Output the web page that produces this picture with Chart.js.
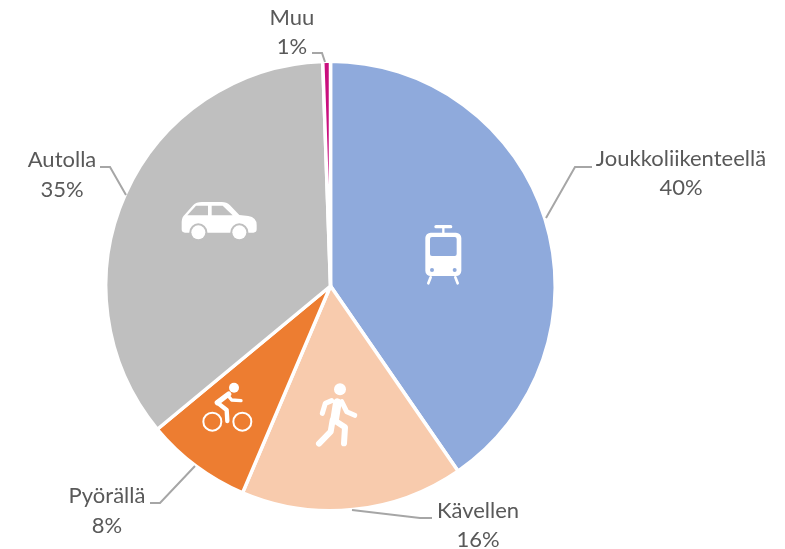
<!DOCTYPE html>
<html><head><meta charset="utf-8">
<style>html,body{margin:0;padding:0;background:#fff}canvas{display:block}</style>
<script src="https://cdn.jsdelivr.net/npm/chart.js@4"></script></head>
<body><canvas id="c" width="785" height="549"></canvas>
<script>
const categories = ["Joukkoliikenteellä","Kävellen","Pyörällä","Autolla","Muu"];
const shares = [40.4,16,7.6,35.45,0.55];
const shareLabels = ["40%","16%","8%","35%","1%"];
const colors = ["#8FAADC","#F8CBAD","#ED7D31","#BFBFBF","#C90F7E"];
const labelPos = [[681,159,188],[478,511,540],[107,496,526],[62,160,190],[292,18,47]];
const leaders = [
 [[592,167],[575,167],[546,218]],
 [[432,518],[420,518],[352,510]],
 [[150,503],[160,503],[195,466]],
 [[100,167],[110,167],[126,195]],
 [[312,53],[322,53],[325,62]]
];
function line(ctx,pts){ctx.beginPath();pts.forEach((p,i)=>i?ctx.lineTo(p[0],p[1]):ctx.moveTo(p[0],p[1]));ctx.stroke();}
function dot(ctx,x,y,r,c){ctx.fillStyle=c;ctx.beginPath();ctx.arc(x,y,r,0,7);ctx.fill();}
function poly(ctx,pts,c){ctx.fillStyle=c;ctx.beginPath();pts.forEach((p,i)=>i?ctx.lineTo(p[0],p[1]):ctx.moveTo(p[0],p[1]));ctx.closePath();ctx.fill();}
function icons(ctx){
 ctx.save();ctx.translate(180,190);ctx.scale(1/3,1/3);
 ctx.lineCap="round";ctx.lineJoin="round";ctx.strokeStyle="#fff";ctx.fillStyle="#fff";
 // train
 ctx.lineWidth=10;line(ctx,[[768,110],[812,110]]);ctx.lineWidth=7;line(ctx,[[790,112],[790,130]]);
 ctx.fillStyle="#fff";ctx.beginPath();ctx.roundRect(736,128,108,130,16);ctx.fill();
 ctx.fillStyle=colors[0];ctx.beginPath();ctx.roundRect(750,141,80,57,6);ctx.fill();
 dot(ctx,756,240,6,colors[0]);dot(ctx,824,240,6,colors[0]);
 ctx.lineWidth=8;line(ctx,[[752,262],[745,280]]);line(ctx,[[826,262],[833,280]]);
 // car
 ctx.fillStyle="#fff";ctx.beginPath();ctx.moveTo(5,95);ctx.quadraticCurveTo(6,80,14,74);ctx.lineTo(40,45);ctx.quadraticCurveTo(48,36,66,36);ctx.lineTo(125,36);ctx.quadraticCurveTo(140,36,150,46);ctx.lineTo(178,75);ctx.lineTo(205,78);ctx.quadraticCurveTo(230,82,230,105);ctx.lineTo(230,118);ctx.quadraticCurveTo(230,128,220,128);ctx.lineTo(15,128);ctx.quadraticCurveTo(5,128,5,118);ctx.closePath();ctx.fill();
 poly(ctx,[[22,76],[48,47],[84,47],[84,76]],colors[3]);poly(ctx,[[95,47],[128,47],[158,76],[95,76]],colors[3]);
 dot(ctx,55,127,27,colors[3]);dot(ctx,178,127,27,colors[3]);dot(ctx,55,127,21,"#fff");dot(ctx,178,127,21,"#fff");
 // bike
 dot(ctx,162,593,15,"#fff");
 ctx.lineWidth=6;ctx.beginPath();ctx.arc(97,695,27,0,7);ctx.stroke();ctx.beginPath();ctx.arc(187,695,27,0,7);ctx.stroke();
 ctx.lineWidth=16;line(ctx,[[146,612],[112,638]]);
 ctx.lineWidth=13;line(ctx,[[112,638],[140,660],[142,693]]);
 ctx.lineWidth=10;line(ctx,[[145,618],[155,630],[183,632]]);
 // walker
 dot(ctx,480,598,18,"#fff");
 ctx.lineWidth=26;line(ctx,[[472,638],[464,688]]);
 ctx.lineWidth=15;line(ctx,[[455,632],[436,640],[427,670]]);line(ctx,[[485,635],[500,665],[524,676]]);
 ctx.lineWidth=18;line(ctx,[[458,690],[452,725],[417,761]]);line(ctx,[[465,692],[495,712],[492,760]]);
 ctx.restore();
}
const overlay={id:"overlay",afterDraw(chart){
 const ctx=chart.ctx;ctx.save();
 icons(ctx);
 ctx.strokeStyle="#A6A6A6";ctx.lineWidth=2;ctx.lineJoin="miter";ctx.lineCap="butt";
 leaders.forEach(l=>line(ctx,l));
 ctx.fillStyle="#595959";ctx.font="22px Lato";ctx.textAlign="center";ctx.textBaseline="middle";
 categories.forEach((c,i)=>{const p=labelPos[i];ctx.fillText(c,p[0],p[1]);ctx.fillText(shareLabels[i],p[0],p[2]);});
 ctx.restore();
}};
new Chart(document.getElementById("c"),{type:"pie",plugins:[overlay],
 data:{labels:categories,datasets:[{data:shares,backgroundColor:colors,borderColor:"#fff",borderWidth:3.5}]},
 options:{responsive:false,animation:false,
  layout:{padding:{left:104,right:228,top:59,bottom:36}},
  plugins:{legend:{display:false},tooltip:{enabled:false},title:{display:false}}}});
</script></body></html>
